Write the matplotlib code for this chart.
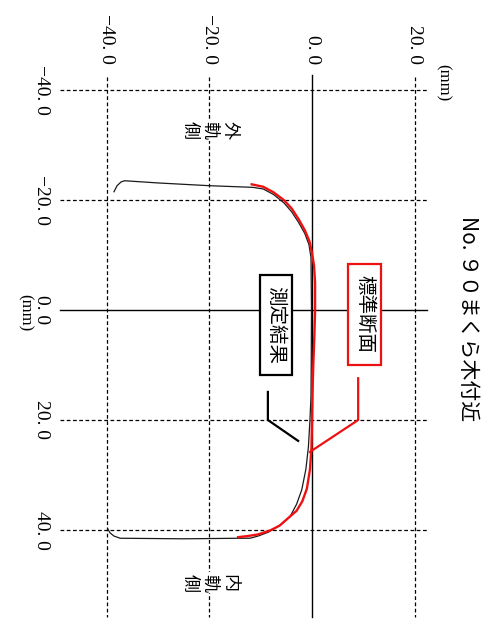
import numpy as np
import matplotlib.pyplot as plt
from matplotlib.patches import Rectangle

# rail head profile, height h (mm) vs lateral position p (mm)
std_h = [-11.75, -9.5, -7.5, -5.5, -4.0, -2.6, -1.4, -0.5, 0.0, 0.4, 0.6, 0.6,
         0.45, 0.25, 0.1, 0.0, -0.1, -0.4, -1.0, -1.9, -3.0, -4.6, -6.3, -8.2,
         -10.5, -12.5, -14.4]
std_p = [-22.85, -22.4, -21.4, -20.0, -18.5, -16.5, -14.5, -12.5, -10.4, -8.0,
         -5.0, 0.0, 5.0, 10.0, 15.0, 20.0, 25.0, 29.0, 32.5, 34.8, 36.5, 37.8,
         39.2, 40.1, 40.8, 41.1, 41.3]

meas_h = [-38.6, -38.0, -37.2, -36.5, -30.0, -20.0, -11.5, -9.5, -7.5, -5.5,
          -4.0, -2.6, -1.4, -0.6, -0.2, -0.15, -0.1, -0.15, -0.2, -0.4, -0.7,
          -1.2, -2.0, -3.0, -4.3, -6.2, -8.5, -10.5, -12.1, -14.0, -25.0, -37.4,
          -38.6, -39.4, -39.8]
meas_p = [-21.5, -22.6, -23.3, -23.5, -23.1, -22.6, -22.3, -22.0, -21.0, -19.5,
          -17.9, -15.9, -13.9, -11.9, -9.6, -5.0, 0.0, 10.0, 15.8, 20.0, 24.9,
          29.0, 32.7, 35.3, 37.6, 39.1, 40.4, 41.1, 41.5, 41.5, 41.6, 41.5,
          41.1, 40.5, 39.8]

h_ticks = [-40, -20, 0, 20]
p_ticks = [-40, -20, 0, 20, 40]

title = 'No. ９０まくら木付近'
serif = 'Liberation Serif'
cjk = ['Noto Sans CJK JP', 'DejaVu Sans']


def fmt(v):
    s = f'{abs(v):.1f}'.replace('.', '. ')
    return ('\u2212' if v < 0 else '') + s


fig = plt.figure(figsize=(4.91, 6.23), dpi=100)
ax = fig.add_axes([0, 0, 1, 1])
ax.set_xlim(-312 / 5.13, 179 / 5.13)
ax.set_ylim(313 / 5.5, -310 / 5.5)
ax.axis('off')

grid_kw = dict(color='black', lw=0.9, linestyle=(0, (3, 2)), zorder=1)
for p in p_ticks:
    if p == 0:
        ax.plot([-49.1, 22.4], [p, p], color='black', lw=1.0, zorder=1)
    else:
        ax.plot([-49.1, 22.4], [p, p], **grid_kw)
for h in h_ticks:
    if h == 0:
        ax.plot([h, h], [-42.7, 55.8], color='black', lw=1.0, zorder=1)
    else:
        ax.plot([h, h], [-42.4, 55.8], **grid_kw)

# tick labels
for h in h_ticks:
    ax.text(h, -44.7, fmt(h), rotation=270, ha='center', va='bottom',
            fontsize=14, family=serif)
for p in p_ticks:
    ax.text(-52.8, p, fmt(p), rotation=270, ha='center', va='center',
            fontsize=14, family=serif)
ax.text(-55.9, 0.5, '(mm)', rotation=270, ha='center', va='center',
        fontsize=12, family=serif)
ax.text(25.5, -41.3, '(mm)', rotation=270, ha='center', va='center',
        fontsize=12, family=serif)

ax.text(30.4, 1.5, title, rotation=270, ha='center', va='center',
        fontsize=15, family=cjk)

# rail side labels
side_kw = dict(rotation=270, ha='center', va='center', fontsize=13,
               family=cjk, linespacing=1.15,
               bbox=dict(facecolor='white', edgecolor='none', pad=1), zorder=3)
ax.text(-20.0, -32.7, '外\n軌\n側', **side_kw)
ax.text(-20.0, 49.6, '内\n軌\n側', **side_kw)

# profiles
ax.plot(meas_h, meas_p, color='#1a1a1a', lw=0.9, zorder=4)
ax.plot(std_h, std_p, color='#ee1111', lw=1.7, zorder=5)

# legend boxes with leader lines
ax.add_patch(Rectangle((-10.1, -6.4), 6.2, 18.2, facecolor='white',
                       edgecolor='black', lw=1.6, zorder=6))
ax.text(-7.0, 2.7, '測定結果', rotation=270, ha='center', va='center',
        fontsize=14, family=cjk, zorder=7)
ax.plot([-8.6, -8.6, -2.7], [14.9, 20.0, 23.8], color='black', lw=1.6,
        zorder=6)

ax.add_patch(Rectangle((7.0, -8.4), 6.5, 18.4, facecolor='white',
                       edgecolor='#ee1111', lw=1.6, zorder=6))
ax.text(10.25, 0.8, '標準断面', rotation=270, ha='center', va='center',
        fontsize=14, family=cjk, zorder=7)
ax.plot([9.0, 9.0, -0.4], [12.4, 20.0, 25.8], color='#ee1111', lw=1.6,
        zorder=6)

fig.savefig('out.png', dpi=100)
